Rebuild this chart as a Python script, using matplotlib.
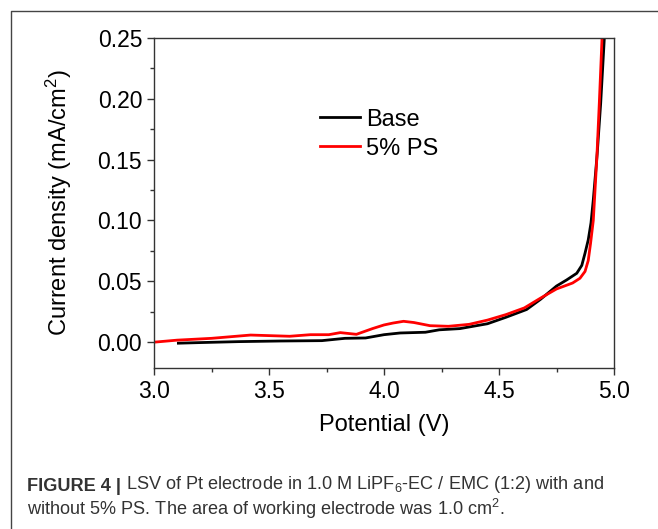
import matplotlib
matplotlib.use('Agg')
import matplotlib.pyplot as plt
from matplotlib.lines import Line2D
from matplotlib.ticker import MultipleLocator

plt.rcParams['font.family'] = ['Liberation Sans', 'DejaVu Sans']
plt.rcParams['mathtext.fontset'] = 'custom'
plt.rcParams['mathtext.rm'] = 'Liberation Sans'
plt.rcParams['mathtext.it'] = 'Liberation Sans:italic'

# LSV curves
base_v = [3.106, 3.20, 3.37, 3.55, 3.73, 3.83, 3.92, 4.00, 4.07, 4.18, 4.24,
          4.33, 4.45, 4.53, 4.62, 4.68, 4.75, 4.794, 4.838, 4.86, 4.874,
          4.888, 4.900, 4.910, 4.927, 4.942, 4.958]
base_j = [-0.001, -0.0005, 0.0003, 0.0008, 0.0011, 0.003, 0.0033, 0.006,
          0.0074, 0.008, 0.010, 0.011, 0.015, 0.0203, 0.0267, 0.035, 0.046,
          0.051, 0.0565, 0.063, 0.073, 0.084, 0.098, 0.117, 0.155, 0.196, 0.250]

ps_v = [3.01, 3.10, 3.25, 3.42, 3.59, 3.68, 3.76, 3.81, 3.88, 3.95, 4.00,
        4.04, 4.085, 4.13, 4.20, 4.28, 4.37, 4.45, 4.53, 4.61, 4.68, 4.75,
        4.82, 4.852, 4.874, 4.888, 4.898, 4.91, 4.925, 4.936, 4.948]
ps_j = [0.000, 0.0015, 0.003, 0.0057, 0.0047, 0.006, 0.006, 0.0077, 0.0063,
        0.011, 0.014, 0.0156, 0.017, 0.016, 0.0134, 0.0129, 0.0145, 0.018,
        0.0225, 0.028, 0.036, 0.0436, 0.0485, 0.0524, 0.058, 0.067, 0.081,
        0.100, 0.150, 0.196, 0.250]

fig = plt.figure(figsize=(6.58, 5.29), dpi=100)
ax = fig.add_axes([154 / 658, 1 - 368 / 529, 460 / 658, 330 / 529])

ax.plot(base_v, base_j, color='black', lw=2.0, label='Base')
ax.plot(ps_v, ps_j, color='#ff0000', lw=2.0, label='5% PS')

ax.set_xlim(3.0, 5.0)
ax.set_ylim(-0.0214, 0.25)
ax.xaxis.set_major_locator(MultipleLocator(0.5))
ax.xaxis.set_minor_locator(MultipleLocator(0.25))
ax.yaxis.set_major_locator(MultipleLocator(0.05))
ax.yaxis.set_minor_locator(MultipleLocator(0.025))
ax.xaxis.set_major_formatter(plt.FormatStrFormatter('%.1f'))
ax.yaxis.set_major_formatter(plt.FormatStrFormatter('%.2f'))
ax.tick_params(which='both', direction='out', color='#333333', labelsize=16.5)
ax.tick_params(which='major', length=5, width=1)
ax.tick_params(which='minor', length=3, width=1)
for s in ax.spines.values():
    s.set_color('#333333')
    s.set_linewidth(1.0)

ax.set_xlabel('Potential (V)', fontsize=17, labelpad=8)
ax.set_ylabel('Current density (mA/cm$^2$)', fontsize=17, labelpad=17)

ax.legend(loc='upper left', bbox_to_anchor=(0.36, 0.786), frameon=False,
          fontsize=17, handlelength=1.7, handletextpad=0.25, labelspacing=0.3,
          borderpad=0, borderaxespad=0)

# figure frame (left and top edges)
fig.add_artist(Line2D([11 / 658, 11 / 658, 1], [0, 1 - 11 / 529, 1 - 11 / 529],
                      transform=fig.transFigure, color='#444444', lw=1.0))

# caption
cap_color = '#333333'
t1 = fig.text(27 / 658, 1 - 491 / 529, 'FIGURE 4 |', fontsize=13.05,
              fontweight='bold', color=cap_color)
ax.annotate(' LSV of Pt electrode in 1.0 M LiPF$_6$-EC / EMC (1:2) with and',
            xy=(1, 0), xycoords=t1, fontsize=13.05, color=cap_color,
            va='bottom')
fig.text(27 / 658, 1 - 515 / 529,
         'without 5% PS. The area of working electrode was 1.0 cm$^2$.',
         fontsize=13.05, color=cap_color)

fig.savefig('out.png', dpi=100)
